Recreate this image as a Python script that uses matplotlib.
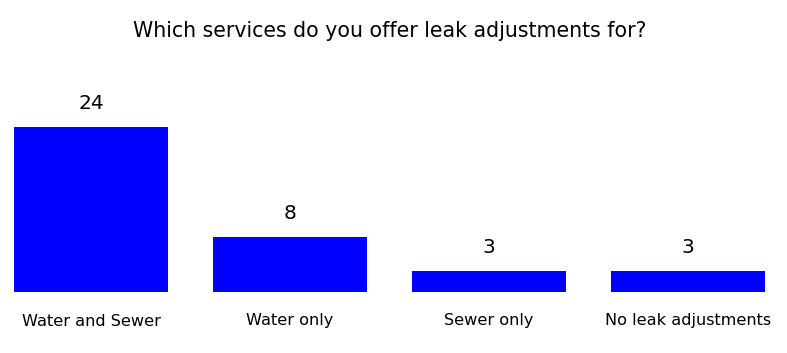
import matplotlib
matplotlib.use("Agg")
import matplotlib.pyplot as plt

categories = ["Water and Sewer", "Water only", "Sewer only", "No leak adjustments"]
counts = [24, 8, 3, 3]

W, H = 787, 353
fig = plt.figure(figsize=(W / 100, H / 100), dpi=100)
fig.patch.set_facecolor("white")

# axes placed in pixel terms: baseline at y=292, top at y=60
ax = fig.add_axes([0, (H - 292) / H, 1, 232 / H])
x = list(range(len(categories)))
ax.bar(x, counts, width=0.774, color="#0000ff")
ax.set_xlim(-91 / 199, (W - 91) / 199)
ax.set_ylim(0, 232 / 6.875)
ax.axis("off")

font = "DejaVu Sans"
for xi, v in zip(x, counts):
    ax.annotate(str(v), (xi, v), xytext=(0, 14), textcoords="offset pixels",
                ha="center", va="bottom", fontsize=14.5, family=font, color="black")
for xi, c in zip(x, categories):
    ax.annotate(c, (xi, 0), xytext=(0, -29), textcoords="offset pixels",
                ha="center", va="center", fontsize=11.6, family=font, color="black")

fig.text(390 / W, 1 - 31 / H, "Which services do you offer leak adjustments for?",
         ha="center", va="center", fontsize=14.8, family=font, color="black")

fig.savefig("out.png", dpi=100)
